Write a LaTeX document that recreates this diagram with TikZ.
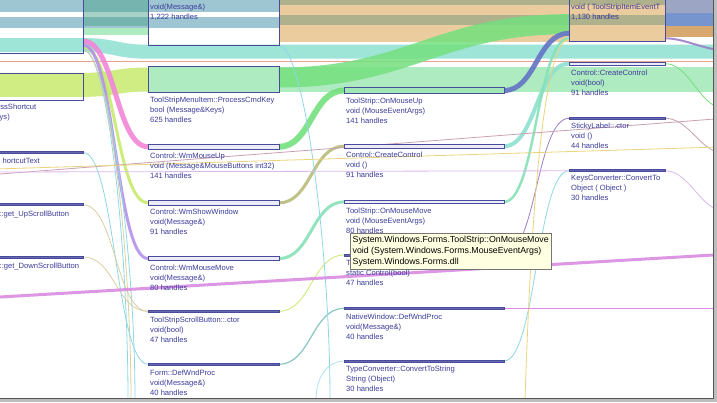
\documentclass[tikz,border=0pt]{standalone}
\usepackage{fontspec}
\setmainfont{Liberation Sans}
\usetikzlibrary{positioning,calc,backgrounds}
\definecolor{cgNavy}{HTML}{4B4B9E}
\definecolor{cgText}{HTML}{3C3C9A}
\definecolor{cgBarFill}{HTML}{ECECF8}
\definecolor{cgSteel}{HTML}{8EBDCB}
\definecolor{cgDeepTeal}{HTML}{4FA58E}
\definecolor{cgTan}{HTML}{E8C48E}
\definecolor{cgGrayGreen}{HTML}{7E9A7E}
\definecolor{cgSlate}{HTML}{8C96BA}
\definecolor{cgRoyal}{HTML}{5F82C6}
\definecolor{cgOchre}{HTML}{D09A58}
\definecolor{cgMint}{HTML}{8EE0D0}
\definecolor{cgLime}{HTML}{C8EA6E}
\definecolor{cgGreen}{HTML}{74E07E}
\definecolor{cgPaleGreen}{HTML}{A2E8B6}
\definecolor{cgPink}{HTML}{F286D8}
\definecolor{cgViolet}{HTML}{B592EA}
\definecolor{cgOlive}{HTML}{B9BB7A}
\definecolor{cgTeal}{HTML}{86E2B6}
\definecolor{cgSea}{HTML}{88C8C0}
\definecolor{cgBlue}{HTML}{6474C6}
\definecolor{cgCyan}{HTML}{8ED8E6}
\definecolor{cgSand}{HTML}{D9CFA0}
\definecolor{cgRed}{HTML}{E8A292}
\definecolor{cgMagenta}{HTML}{D98BE2}
\definecolor{cgMauve}{HTML}{C9A0B4}
\definecolor{cgYellow}{HTML}{EBD47C}
\definecolor{cgLavender}{HTML}{DDB8EC}
\definecolor{cgPurple}{HTML}{9C80C8}
\definecolor{cgTipFill}{HTML}{FFFFE1}
\definecolor{cgTipLine}{HTML}{767676}
\definecolor{cgShadow}{HTML}{BDBDBD}
\definecolor{cgFrame}{HTML}{555555}
\tikzset{
  cgBox/.style={draw=cgNavy, line width=0.8pt, inner sep=0pt, outer sep=0pt, anchor=north west},
  cgHollow/.style={cgBox, fill=cgBarFill},
  cgSolid/.style={cgBox, fill=cgNavy!85!white},
  cgLabel/.style={inner sep=0pt, align=left, text=cgText, font=\fontsize{7.6}{10}\selectfont},
  cgTip/.style={draw=cgTipLine, fill=cgTipFill, inner xsep=2pt, inner ysep=2pt, align=left,
    anchor=north west, font=\fontsize{8.8}{11}\selectfont, text=black},
  cgWide/.style={line cap=butt, opacity=0.85},
  cgFlow/.style={line cap=butt, opacity=0.9},
  cgThread/.style={line width=0.8pt},
  cgSpan/.style={to path={.. controls +(#1,0) and +(-#1,0) .. (\tikztotarget)}},
  cgSpan/.default=32,
  cgDrop/.style={to path={.. controls +(25,0) and +(0,-150) .. (\tikztotarget)}}
}

\begin{document}
\begin{tikzpicture}[x=1pt, y=-1pt]
\useasboundingbox (0,0) rectangle (717,402);
\begin{scope}
\clip (0,0) rectangle (713,398);
% column 1, cut at the left edge
\node[cgBox, minimum width=103, minimum height=58] (c1a) at (-20,-5) {};
\node[cgBox, minimum width=103, minimum height=26.3] (c1b) at (-20,73.7) {};
\node[cgSolid, minimum width=103, minimum height=2] (c1c) at (-20,151.5) {};
\node[cgSolid, minimum width=103, minimum height=2] (c1d) at (-20,203.8) {};
\node[cgSolid, minimum width=103, minimum height=2] (c1e) at (-20,256) {};
\node[cgLabel, anchor=north east] at ($(c1b.south west)+(56.5,3.5)$) {ssShortcut};
\node[cgLabel, anchor=north east] at ($(c1b.south west)+(30,13.5)$) {ys)};
\node[cgLabel, anchor=north east] at ($(c1c.south west)+(60,4)$) {hortcutText};
\node[cgLabel, anchor=north east] at ($(c1d.south west)+(89.3,4.5)$) {::get\_UpScrollButton};
\node[cgLabel, anchor=north east] at ($(c1e.south west)+(99.3,4.3)$) {::get\_DownScrollButton};
% column 2
\node[cgBox, minimum width=131, minimum height=50.7] (wndproc) at (148,-5) {};
\node[cgBox, minimum width=131, minimum height=25.6] (cmdkey) at (148,66.7) {};
\node[cgHollow, minimum width=131, minimum height=4.5] (mouseup) at (148,144.5) {};
\node[cgHollow, minimum width=131, minimum height=4.3] (showwin) at (148,200.7) {};
\node[cgHollow, minimum width=131, minimum height=4.5] (mousemove) at (148,256.3) {};
\node[cgSolid, minimum width=131, minimum height=2.5] (scrollctor) at (148,310) {};
\node[cgSolid, minimum width=131, minimum height=2.5] (defwnd) at (148,363) {};
\node[cgLabel, below right=8.5pt and 2pt of wndproc.north west] {void(Message\&)\\1,222 handles};
\node[cgLabel, below right=4pt and 2pt of cmdkey.south west] {ToolStripMenuItem::ProcessCmdKey\\bool (Message\&Keys)\\625 handles};
\node[cgLabel, below right=4pt and 2pt of mouseup.south west] {Control::WmMouseUp\\void (Message\&MouseButtons int32)\\141 handles};
\node[cgLabel, below right=4pt and 2pt of showwin.south west] {Control::WmShowWindow\\void(Message\&)\\91 handles};
\node[cgLabel, below right=4pt and 2pt of mousemove.south west] {Control::WmMouseMove\\void(Message\&)\\80 handles};
\node[cgLabel, below right=4pt and 2pt of scrollctor.south west] {ToolStripScrollButton::.ctor\\void(bool)\\47 handles};
\node[cgLabel, below right=4pt and 2pt of defwnd.south west] {Form::DefWndProc\\void(Message\&)\\40 handles};
% column 3
\node[cgBox, fill=cgPaleGreen, minimum width=160, minimum height=5.6] (onmouseup) at (344,87.7) {};
\node[cgHollow, minimum width=160, minimum height=3.8] (createctl) at (344,144.3) {};
\node[cgHollow, minimum width=160, minimum height=3.8] (onmousemove) at (344,200) {};
\node[cgSolid, minimum width=160, minimum height=2] (staticctl) at (344,254) {};
\node[cgSolid, minimum width=160, minimum height=2] (nativewnd) at (344,307.3) {};
\node[cgSolid, minimum width=160, minimum height=2] (convstr) at (344,360) {};
\node[cgLabel, below right=4pt and 2pt of onmouseup.south west] {ToolStrip::OnMouseUp\\void (MouseEventArgs)\\141 handles};
\node[cgLabel, below right=4pt and 2pt of createctl.south west] {Control::CreateControl\\void ()\\91 handles};
\node[cgLabel, below right=4pt and 2pt of onmousemove.south west] {ToolStrip::OnMouseMove\\void (MouseEventArgs)\\80 handles};
\node[cgLabel, below right=4pt and 2pt of staticctl.south west] {T\\static Control(bool)\\47 handles};
\node[cgLabel, below right=4pt and 2pt of nativewnd.south west] {NativeWindow::DefWndProc\\void(Message\&)\\40 handles};
\node[cgLabel, below right=4pt and 2pt of convstr.south west] {TypeConverter::ConvertToString\\String (Object)\\30 handles};
% column 4
\node[cgBox, minimum width=96, minimum height=46.3] (itemclick) at (569,-5) {};
\node[cgHollow, minimum width=96, minimum height=3.3] (createctlb) at (569,62) {};
\node[cgSolid, minimum width=96, minimum height=2] (sticky) at (569,117.3) {};
\node[cgSolid, minimum width=96, minimum height=2] (keysconv) at (569,169.8) {};
\begin{scope}
\clip (itemclick.north west) rectangle (itemclick.south east);
\node[cgLabel, below right=8.5pt and 2pt of itemclick.north west] {void ( ToolStripItemEventT\\1,130 handles};
\end{scope}
\node[cgLabel, below right=4pt and 2pt of createctlb.south west] {Control::CreateControl\\void(bool)\\91 handles};
\node[cgLabel, below right=3.5pt and 2pt of sticky.south west] {StickyLabel::.ctor\\void ()\\44 handles};
\node[cgLabel, below right=3.5pt and 2pt of keysconv.south west] {KeysConverter::ConvertTo\\Object ( Object )\\30 handles};
% free ends of the threads
\coordinate (dropA) at (128,400);
\coordinate (dropB) at (135,400);
\coordinate (dropC) at (131,400);
\coordinate (dropD) at (330,400);
\coordinate (dropE) at (316,400);
\coordinate (dropF) at (525,400);
\coordinate (magW) at (-5,297.3);
\coordinate (magE) at (720,254.6);
\coordinate (mauveW) at (-5,174.4);
\coordinate (mauveE) at (720,118.6);
\coordinate (yellowW) at (-5,169);
\coordinate (yellowE) at (720,147);
\coordinate (lavW) at (-5,172);
% tooltip
\node[cgTip, minimum width=201, minimum height=36] (tip) at (350,233)
  {System.Windows.Forms.ToolStrip::OnMouseMove\\void (System.Windows.Forms.MouseEventArgs)\\System.Windows.Forms.dll};

\begin{scope}[on background layer]
\clip (0,0) rectangle (713,398);
\fill[white] (0,0) rectangle (717,402);
% wide bands along the top
\draw[cgWide, cgSteel, line width=12] ($(c1a.north west)+(0,11)$) -- ($(wndproc.north east)+(0,11)$);
\draw[cgWide, cgSteel, line width=11] ($(c1a.north west)+(0,27.5)$) -- ($(wndproc.north east)+(0,27.5)$);
\draw[cgWide, cgDeepTeal, line width=26, opacity=.5] ($(c1a.north east)+(0,18)$) -- ($(wndproc.north west)+(0,18)$);
\draw[cgWide, cgPaleGreen, line width=7] ($(c1a.north east)+(0,36)$) -- ($(wndproc.north west)+(0,36)$);
\draw[cgWide, cgTan, line width=42] ($(wndproc.north east)+(0,26)$) -- ($(itemclick.north east)+(0,26)$);
\draw[cgWide, cgGrayGreen, line width=5, opacity=.55] ($(wndproc.north east)+(0,7.5)$) -- ($(itemclick.north east)+(0,7.5)$);
\draw[cgWide, cgGrayGreen, line width=10, opacity=.55] ($(wndproc.north east)+(0,25)$) -- ($(itemclick.north east)+(0,25)$);
\draw[cgWide, cgSlate, line width=13] ($(itemclick.north east)+(0,11.5)$) -- ++(60,0);
\draw[cgWide, cgRoyal, line width=13] ($(itemclick.north east)+(0,24.5)$) -- ++(60,0);
\draw[cgWide, cgOchre, line width=11] ($(itemclick.north east)+(0,36.5)$) -- ++(60,0);
\draw[cgWide, cgMint, line width=14] ($(c1a.south west)+(0,-8)$) -- ($(c1a.south east)+(0,-8)$)
  to[cgSpan] ($(wndproc.south west)+(0,6)$) -- ++(620,0);
\draw[cgRed, line width=1] ($(c1a.south west)+(0,8.5)$) -- ++(760,0);
\draw[cgWide, cgLime, line width=24] ($(c1b.west)+(0,-2)$) -- ($(c1b.east)+(0,-2)$) to[cgSpan] (cmdkey.west);
\draw[cgWide, cgPaleGreen, line width=25] (cmdkey.west) -- ++(600,0);
\draw[cgWide, cgGreen, line width=20] ($(cmdkey.east)+(0,-2)$) to[cgSpan=130] ($(itemclick.west)+(0,6)$);
% column 1 to column 2
\draw[cgFlow, cgPink, line width=5] ($(c1a.south east)+(0,-12)$) to[cgSpan] (mouseup.west);
\draw[cgFlow, cgLime, line width=3] ($(c1a.south east)+(0,-6)$) to[cgSpan] (showwin.west);
\draw[cgFlow, cgViolet, line width=3] ($(c1a.south east)+(0,-8)$) to[cgSpan] (mousemove.west);
\draw[cgThread, cgCyan] ($(c1a.south east)+(0,-4)$) to[cgDrop] (dropA);
\draw[cgThread, cgCyan] ($(c1a.south east)+(0,-3)$) to[cgDrop] (dropB);
\draw[cgThread, cgSand] ($(c1a.south east)+(0,-3.5)$) to[cgDrop] (dropC);
\draw[cgThread, cgCyan] (c1c.east) to[cgSpan] (defwnd.west);
\draw[cgThread, cgSand] (c1d.east) to[cgSpan] (scrollctor.west);
\draw[cgThread, cgSand] (c1e.east) to[cgSpan] (scrollctor.west);
% column 2 to column 3
\draw[cgFlow, cgGreen, line width=6] (mouseup.east) to[cgSpan] (onmouseup.west);
\draw[cgFlow, cgOlive, line width=3] (showwin.east) to[cgSpan] (createctl.west);
\draw[cgFlow, cgTeal, line width=3] (mousemove.east) to[cgSpan] (onmousemove.west);
\draw[cgThread, cgLime] (scrollctor.east) to[cgSpan] (staticctl.west);
\draw[cgThread, cgSea, line width=1.2] (defwnd.east) to[cgSpan] (nativewnd.west);
\draw[cgThread, cgCyan] (wndproc.south east) to[cgDrop] (dropD);
\draw[cgThread, cgCyan!70] (convstr.west) .. controls +(-15,0) and +(0,-25) .. (dropE);
% column 3 to column 4
\draw[cgFlow, cgBlue, line width=5] (onmouseup.east) to[cgSpan] ($(itemclick.south west)+(0,-8)$);
\draw[cgFlow, cgMint, line width=4] (createctl.east) to[cgSpan] (createctlb.west);
\draw[cgFlow, cgTeal, line width=2.5] (onmousemove.east) to[cgSpan] ($(itemclick.south west)+(0,-3)$);
\draw[cgThread, cgPurple] (staticctl.east) to[cgSpan] (sticky.west);
\draw[cgThread, cgCyan] (convstr.east) to[cgSpan] (keysconv.west);
\draw[cgThread, cgYellow] ($(itemclick.south west)+(0,-2)$) .. controls +(-20,0) and +(8,-250) .. (dropF);
% leaving column 4
\draw[cgFlow, cgPurple, line width=2] ($(itemclick.south east)+(0,-3)$) to[cgSpan=20] ++(60,12);
\draw[cgThread, cgGreen] (createctlb.east) to[cgSpan=25] ++(60,45);
\draw[cgThread, cgMauve] (sticky.east) to[cgSpan=25] ++(60,35);
\draw[cgThread, cgLavender] (keysconv.east) to[cgSpan=25] ++(60,40);
% long threads across the view
\draw[cgFlow, cgMagenta, line width=3] (magW) -- (magE);
\draw[cgThread, cgMauve] (mauveW) -- (mauveE);
\draw[cgThread, cgYellow] (yellowW) -- (yellowE);
\draw[cgThread, cgLavender] (lavW) -- (keysconv.west);
\draw[cgThread, cgMagenta, line width=1.5] (nativewnd.east) -- ++(220,0);
\end{scope}
\end{scope}
% window edge
\fill[cgShadow] (713,0) rectangle (717,402);
\fill[cgShadow] (0,398) rectangle (717,402);
\draw[cgFrame, line width=1.2] (713.6,0) -- (713.6,398.6) -- (0,398.6);
\end{tikzpicture}
\end{document}
